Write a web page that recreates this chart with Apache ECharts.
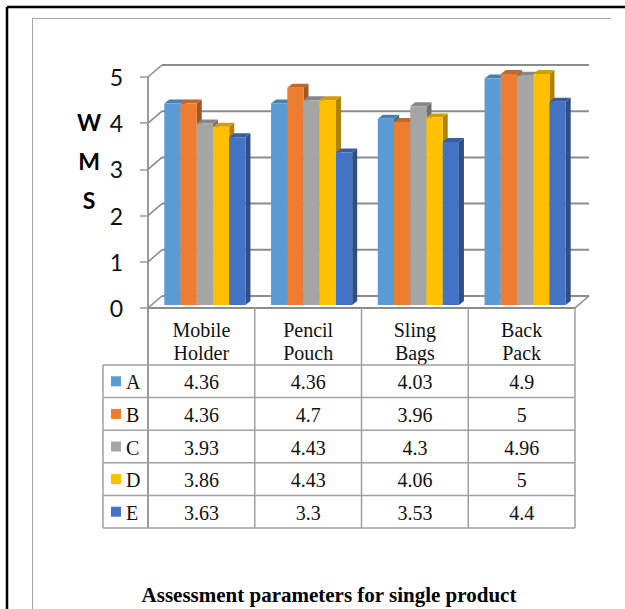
<!DOCTYPE html>
<html><head><meta charset="utf-8">
<script src="https://cdn.jsdelivr.net/npm/echarts@6/dist/echarts.min.js"></script>
<style>html,body{margin:0;padding:0;background:#fff}#c{width:625px;height:609px}</style>
</head><body><div id="c"></div>
<script>
const categories = ['Mobile\nHolder', 'Pencil\nPouch', 'Sling\nBags', 'Back\nPack'];
const seriesNames = ['A', 'B', 'C', 'D', 'E'];
const valuesA = [4.36, 4.36, 4.03, 4.9];
const valuesB = [4.36, 4.7, 3.96, 5];
const valuesC = [3.93, 4.43, 4.3, 4.96];
const valuesD = [3.86, 4.43, 4.06, 5];
const valuesE = [3.63, 3.3, 3.53, 4.4];
const yTicks = [0, 1, 2, 3, 4, 5];
const yAxisTitle = 'W\nM\nS';
const caption = 'Assessment parameters for single product';

const allValues = [valuesA, valuesB, valuesC, valuesD, valuesE];
const colors = ['#5B9BD5', '#ED7D31', '#A5A5A5', '#FFC000', '#4472C4'];

function shade(hex, f) {
  const n = parseInt(hex.slice(1), 16);
  const r = Math.round(((n >> 16) & 255) * f), g = Math.round(((n >> 8) & 255) * f), b = Math.round((n & 255) * f);
  return 'rgb(' + r + ',' + g + ',' + b + ')';
}

const WALL_DX = 14, WALL_DY = -12;
const BAR_SHIFT_X = 3.5, BAR_SHIFT_Y = -3;
const BAR_DX = 5, BAR_DY = -4;
const GRID_COLOR = '#8c8c8c';
const TABLE_COLOR = '#a0a0a0';
const SERIF = '"Liberation Serif", "Times New Roman", serif';

function barRenderer(si) {
  const color = colors[si], topc = shade(colors[si], 0.82), side = shade(colors[si], 0.68);
  return function (params, api) {
    const ci = api.value(0), v = api.value(1);
    const base = api.coord([ci, 0]);
    const top = api.coord([ci, v]);
    const band = api.size([1, 0])[0];
    const bw = band * 0.152;
    const x0 = base[0] - 2.5 * bw + si * bw + BAR_SHIFT_X;
    const y0 = base[1] + BAR_SHIFT_Y, y1 = top[1] + BAR_SHIFT_Y;
    return {
      type: 'group', children: [
        { type: 'polygon', shape: { points: [[x0 + bw, y1], [x0 + bw + BAR_DX, y1 + BAR_DY], [x0 + bw + BAR_DX, y0 + BAR_DY], [x0 + bw, y0]] }, style: { fill: side } },
        { type: 'polygon', shape: { points: [[x0, y1], [x0 + BAR_DX, y1 + BAR_DY], [x0 + bw + BAR_DX, y1 + BAR_DY], [x0 + bw, y1]] }, style: { fill: topc } },
        { type: 'rect', shape: { x: x0, y: y1, width: bw, height: y0 - y1 }, style: { fill: color } }
      ]
    };
  };
}

function wallRenderer(params, api) {
  const v = api.value(1);
  const cs = params.coordSys;
  const y = api.coord([0, v])[1];
  const xl = cs.x, xr = cs.x + cs.width;
  const ch = [
    { type: 'line', shape: { x1: xl, y1: y, x2: xl + WALL_DX, y2: y + WALL_DY }, style: { stroke: GRID_COLOR, lineWidth: 1.6 } },
    { type: 'line', shape: { x1: xl + WALL_DX, y1: y + WALL_DY, x2: xr + WALL_DX, y2: y + WALL_DY }, style: { stroke: GRID_COLOR, lineWidth: 2 } }
  ];
  if (v === 0) {
    ch.push({ type: 'line', shape: { x1: xr, y1: y, x2: xr + WALL_DX, y2: y + WALL_DY }, style: { stroke: GRID_COLOR, lineWidth: 1.6 } });
  }
  return { type: 'group', children: ch };
}

const chart = echarts.init(document.getElementById('c'), null, { renderer: 'svg' });

const series = [{
  type: 'custom', name: 'walls', z: 1, silent: true,
  renderItem: wallRenderer,
  data: yTicks.map(v => [0, v]),
  encode: { x: 0, y: 1 }
}];
seriesNames.forEach((n, si) => {
  series.push({
    type: 'custom', name: n, z: 2 + si,
    renderItem: barRenderer(si),
    data: allValues[si].map((v, i) => [i, v]),
    encode: { x: 0, y: 1 }
  });
});

chart.setOption({
  animation: false,
  backgroundColor: '#fff',
  grid: { left: 148, right: 50, top: 77, bottom: 301 },
  xAxis: {
    type: 'category', data: categories,
    axisLine: { show: true, lineStyle: { color: GRID_COLOR, width: 2 } },
    axisTick: { show: false },
    axisLabel: { interval: 0, fontFamily: SERIF, fontSize: 20, lineHeight: 23, color: '#111', margin: 10 }
  },
  yAxis: {
    type: 'value', min: 0, max: 5, interval: 1,
    axisLine: { show: true, lineStyle: { color: '#9a9a9a', width: 2 } },
    axisTick: { show: true, length: 8, lineStyle: { color: '#9a9a9a', width: 1.5 } },
    axisLabel: { fontFamily: 'Lato', fontSize: 23, color: '#111', margin: 25 },
    splitLine: { show: false }
  },
  series: series
});

// Build data table and frame from arrays
const cx = categories.map((c, i) => chart.convertToPixel({ xAxisIndex: 0 }, i));
const band = cx[1] - cx[0];
const edges = [cx[0] - band / 2].concat(cx.map(c => c + band / 2));
const floorY = chart.convertToPixel({ yAxisIndex: 0 }, 0);
const tableTop = 365, rowH = 32.6, legendLeft = 103;
const tableBottom = tableTop + rowH * seriesNames.length;
const g = [];
// frame
g.push({ type: 'line', shape: { x1: 7, y1: 7, x2: 625, y2: 7 }, style: { stroke: '#000', lineWidth: 2.5 } });
g.push({ type: 'line', shape: { x1: 7, y1: 7, x2: 7, y2: 609 }, style: { stroke: '#000', lineWidth: 2.5 } });
g.push({ type: 'line', shape: { x1: 32, y1: 18.5, x2: 611, y2: 18.5 }, style: { stroke: '#a6a6a6', lineWidth: 1 } });
g.push({ type: 'line', shape: { x1: 32.5, y1: 18, x2: 32.5, y2: 609 }, style: { stroke: '#a6a6a6', lineWidth: 1 } });
// table verticals
edges.forEach((x, i) => {
  g.push({ type: 'line', shape: { x1: x, y1: floorY, x2: x, y2: tableBottom }, style: { stroke: i === 0 ? '#9a9a9a' : TABLE_COLOR, lineWidth: i === 0 ? 2 : 1.5 } });
});
g.push({ type: 'line', shape: { x1: legendLeft, y1: tableTop, x2: legendLeft, y2: tableBottom }, style: { stroke: TABLE_COLOR, lineWidth: 1.5 } });
// table horizontals
for (let r = 0; r <= seriesNames.length; r++) {
  const y = tableTop + r * rowH;
  g.push({ type: 'line', shape: { x1: legendLeft, y1: y, x2: edges[edges.length - 1], y2: y }, style: { stroke: TABLE_COLOR, lineWidth: 1.5 } });
}
// rows
seriesNames.forEach((n, si) => {
  const yc = tableTop + rowH * (si + 0.5);
  g.push({ type: 'rect', shape: { x: 111, y: yc - 5, width: 10, height: 10 }, style: { fill: colors[si] } });
  g.push({ type: 'text', style: { text: n, x: 126, y: yc + 1, textAlign: 'left', textVerticalAlign: 'middle', font: '20px ' + SERIF, fill: '#111' } });
  allValues[si].forEach((v, ci) => {
    g.push({ type: 'text', style: { text: String(v), x: cx[ci], y: yc + 1, textAlign: 'center', textVerticalAlign: 'middle', font: '20px ' + SERIF, fill: '#111' } });
  });
});
// axis title
g.push({ type: 'text', style: { text: yAxisTitle, x: 89, y: 161, textAlign: 'center', textVerticalAlign: 'middle', font: 'bold 23px Lato', lineHeight: 39, fill: '#000' } });
// caption
g.push({ type: 'text', style: { text: caption, x: 329, y: 595, textAlign: 'center', textVerticalAlign: 'middle', font: 'bold 21px ' + SERIF, fill: '#000' } });

chart.setOption({ graphic: g.map(e => Object.assign({ silent: true, z: 10 }, e)) });
</script>
</body></html>
